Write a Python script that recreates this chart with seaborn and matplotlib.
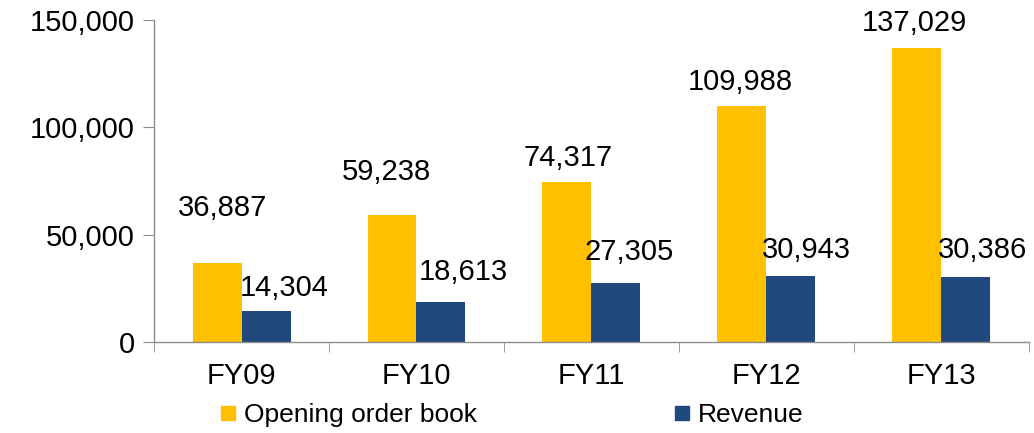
import pandas as pd
import matplotlib.pyplot as plt
import seaborn as sns
from matplotlib.lines import Line2D

# Data
years = ['FY09', 'FY10', 'FY11', 'FY12', 'FY13']
order_book = [36887, 59238, 74317, 109988, 137029]
revenue = [14304, 18613, 27305, 30943, 30386]
series_names = ['Opening order book', 'Revenue']
colors = ['#FFC000', '#1F497D']

# label offsets (pixels) from top centre of each bar, as placed in the original
label_dx = [[6, -6, 1, -2, -2], [18, 22, 13, 15, 17]]
label_dy = [[55, 43, 24, 24, 25], [23, 30, 31, 26, 27]]

df = pd.DataFrame({
    'year': years * 2,
    'value': order_book + revenue,
    'series': [series_names[0]] * 5 + [series_names[1]] * 5,
})

sns.set_style('white')
plt.rcParams['font.family'] = ['Liberation Sans', 'DejaVu Sans']
plt.rcParams['text.color'] = 'black'
plt.rcParams['xtick.color'] = 'black'
plt.rcParams['ytick.color'] = 'black'

fig = plt.figure(figsize=(10.34, 4.33), dpi=100)
ax = fig.add_axes([0.149, 0.21, 0.846, 0.744])

sns.barplot(data=df, x='year', y='value', hue='series', order=years,
            hue_order=series_names, palette=colors, width=0.56, gap=0,
            saturation=1, legend=False, linewidth=0, ax=ax)

ax.set_ylim(0, 150000)
ax.set_xlim(-0.5, 4.5)
ax.set_yticks([0, 50000, 100000, 150000])
ax.set_yticklabels([f'{v:,}' for v in [0, 50000, 100000, 150000]])
ax.set_xlabel('')
ax.set_ylabel('')

# gray axis lines, ticks between categories
for s in ['top', 'right']:
    ax.spines[s].set_visible(False)
for s in ['left', 'bottom']:
    ax.spines[s].set_color('#8c8c8c')
    ax.spines[s].set_linewidth(1)
ax.set_xticks([i - 0.5 for i in range(6)], minor=True)
ax.tick_params(axis='x', which='major', length=0, pad=14, labelsize=21, labelcolor='black')
ax.tick_params(axis='x', which='minor', length=7, direction='out', color='#8c8c8c', bottom=True)
ax.tick_params(axis='y', which='major', length=8, direction='out', color='#8c8c8c', left=True,
               labelsize=21, pad=6, labelcolor='black')

# data labels
for k, cont in enumerate(ax.containers):
    for j, bar in enumerate(cont):
        x = bar.get_x() + bar.get_width() / 2
        y = bar.get_height()
        ax.annotate(f'{int(round(y)):,}', xy=(x, y),
                    xytext=(label_dx[k][j] * 0.72, label_dy[k][j] * 0.72),
                    textcoords='offset points', ha='center', va='center',
                    fontsize=21, color='black')

handles = [Line2D([0], [0], marker='s', linestyle='', markersize=10,
                  markerfacecolor=c, markeredgecolor=c) for c in colors]
fig.legend(handles, series_names, loc='center', bbox_to_anchor=(0.495, 0.042), ncol=2,
           frameon=False, fontsize=19, handlelength=0.6, handletextpad=0.3,
           columnspacing=7.5, borderpad=0, labelcolor='black')

fig.savefig('out.png', dpi=100, facecolor='white')
